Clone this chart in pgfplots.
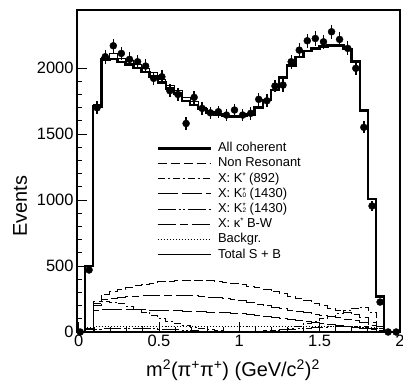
\documentclass[border=0pt]{standalone}
\usepackage{fontspec}
\setmainfont{Liberation Sans}
\usepackage{pgfplots}
\usepackage{pgfplotstable}
\pgfplotsset{compat=1.18}
\newcommand\supsub[2]{\rlap{\raisebox{0.55ex}{\fontsize{8}{8}\selectfont #1}}\raisebox{-0.05ex}{\fontsize{6.5}{6.5}\selectfont #2}}
\newcommand\sups[1]{\raisebox{0.55ex}{\fontsize{8}{8}\selectfont #1}}

\pgfplotstableread{
x fit tot nr kst kzero ktwo kap bkg
-0.010 0 0 0 0 0 0 0 0
0.040 500 505 30 30 20 5 25 38
0.090 1707 1722 230 215 167 20 200 40
0.141 2065 2080 285 235 172 25 248 40
0.191 2068 2113 305 228 172 28 255 40
0.241 2045 2075 322 215 171 30 262 40
0.292 2025 2055 337 195 170 30 267 40
0.342 2000 2030 350 172 169 29 271 40
0.392 1970 2000 362 148 168 27 275 40
0.442 1935 1965 372 125 166 25 277 40
0.493 1890 1915 380 104 164 22 279 40
0.543 1846 1871 386 84 163 19 280 40
0.593 1808 1833 390 66 161 16 279 40
0.644 1750 1780 393 50 159 13 277 40
0.694 1720 1745 394 37 157 10 274 40
0.744 1690 1700 393 26 155 8 270 40
0.795 1665 1670 390 16 152 6 265 40
0.845 1648 1653 385 9 149 5 259 40
0.895 1638 1643 378 5 146 4 252 40
0.945 1634 1639 370 3 143 4 245 40
0.996 1636 1641 360 2 140 5 237 40
1.046 1650 1655 348 2 134 6 228 40
1.096 1700 1705 335 3 127 8 212 40
1.147 1758 1763 320 5 120 10 200 40
1.197 1833 1838 305 10 112 13 188 40
1.247 1930 1935 290 18 104 16 177 40
1.298 2020 2025 272 30 96 20 167 40
1.348 2085 2090 255 45 88 24 157 40
1.398 2130 2135 238 62 80 28 147 40
1.448 2150 2155 220 80 72 32 137 40
1.499 2162 2167 200 100 64 36 127 40
1.549 2172 2177 180 120 56 40 118 40
1.599 2172 2177 160 140 49 44 108 40
1.650 2145 2150 145 160 42 46 99 40
1.700 2050 2055 130 180 36 46 90 40
1.750 1680 1685 110 190 30 42 75 38
1.801 1008 1013 75 150 22 30 50 35
1.851 267 272 25 45 8 10 15 30
1.901 0 0 0 0 0 0 0 0
2.000 0 0 0 0 0 0 0 0
}\hist

\pgfplotstableread{
x y err
0.010 0 0
0.065 470 25
0.115 1699 48
0.166 2086 52
0.216 2169 53
0.266 2111 52
0.317 2066 52
0.367 2048 52
0.417 2015 51
0.467 1922 50
0.518 1934 50
0.568 1828 49
0.618 1800 49
0.669 1580 46
0.719 1778 48
0.769 1694 47
0.820 1661 47
0.870 1669 47
0.920 1644 46
0.970 1682 47
1.021 1644 46
1.071 1657 47
1.121 1763 48
1.172 1752 48
1.222 1864 49
1.272 1871 49
1.323 2048 52
1.373 2136 53
1.423 2207 54
1.473 2224 54
1.524 2199 54
1.574 2275 55
1.624 2217 54
1.675 2149 53
1.725 1998 51
1.775 1551 45
1.826 955 36
1.876 227 18
1.926 0 0
1.976 0 0
}\data

\begin{document}
\begin{tikzpicture}
\path[use as bounding box] (-77bp,-59bp) rectangle (326bp,332bp);
\begin{axis}[
  scale only axis,
  width=323bp, height=322bp,
  xmin=-0.01, xmax=2.0, ymin=0, ymax=2440,
  axis line style={line width=1.2bp},
  tick align=inside, xtick pos=left, ytick pos=left,
  xtick={0,0.5,1,1.5,2}, xticklabels={0,0.5,1,1.5,2},
  ytick={0,500,1000,1500,2000}, yticklabels={0,500,1000,1500,2000},
  minor x tick num=4, minor y tick num=4,
  major tick length=10bp, minor tick length=5bp,
  every tick/.style={line width=0.8bp, black},
  tick label style={font=\fontsize{16.5}{18}\selectfont},
  /pgf/number format/assume math mode=true,
  xlabel={m\textsuperscript{2}(π\textsuperscript{+}π\textsuperscript{+}) (GeV/c\textsuperscript{2})\textsuperscript{2}},
  ylabel={Events},
  xlabel style={font=\fontsize{20}{22}\selectfont, at={(axis description cs:0.483,-0.118)}, anchor=center},
  ylabel style={font=\fontsize{20}{22}\selectfont, at={(axis description cs:-0.176,0.39)}, anchor=center},
  legend cell align=left,
  legend image code/.code={\draw[#1] (0bp,0bp) -- (53bp,0bp);},
  legend style={at={(axis description cs:0.245,0.595)}, anchor=north west, draw=none, fill=none,
    font=\fontsize{13}{15}\selectfont, inner sep=0pt, row sep=0pt,
    nodes={inner sep=1.1bp, text height=10bp, text depth=3bp},
    /tikz/every odd column/.append style={column sep=5bp}},
]
\addlegendimage{line width=2.6bp}
\addlegendentry{All coherent}
\addlegendimage{line width=0.8bp, dash pattern=on 9bp off 4bp}
\addlegendentry{Non Resonant}
\addlegendimage{line width=0.8bp, dash pattern=on 7bp off 3bp on 2bp off 3bp}
\addlegendentry{X: K\sups{*} (892)}
\addlegendimage{line width=0.8bp, dash pattern=on 20bp off 4bp}
\addlegendentry{X: K\supsub{*}{0} (1430)}
\addlegendimage{line width=0.8bp, dash pattern=on 18bp off 3bp on 2bp off 2bp on 2bp off 3bp}
\addlegendentry{X: K\supsub{*}{2} (1430)}
\addlegendimage{line width=0.8bp, dash pattern=on 18bp off 4bp on 8bp off 4bp}
\addlegendentry{X: κ\sups{*} B-W}
\addlegendimage{line width=0.8bp, dash pattern=on 1.2bp off 1.8bp}
\addlegendentry{Backgr.}
\addlegendimage{line width=0.8bp}
\addlegendentry{Total S + B}

\addplot[const plot, line width=0.8bp, dash pattern=on 1.2bp off 1.8bp, forget plot] table[x=x, y=bkg] {\hist};
\addplot[const plot, line width=0.8bp, dash pattern=on 18bp off 3bp on 2bp off 2bp on 2bp off 3bp, forget plot] table[x=x, y=ktwo] {\hist};
\addplot[const plot, line width=0.8bp, dash pattern=on 20bp off 4bp, forget plot] table[x=x, y=kzero] {\hist};
\addplot[const plot, line width=0.8bp, dash pattern=on 18bp off 4bp on 8bp off 4bp, forget plot] table[x=x, y=kap] {\hist};
\addplot[const plot, line width=0.8bp, dash pattern=on 7bp off 3bp on 2bp off 3bp, forget plot] table[x=x, y=kst] {\hist};
\addplot[const plot, line width=0.8bp, dash pattern=on 9bp off 4bp, forget plot] table[x=x, y=nr] {\hist};
\addplot[const plot, line width=0.8bp, forget plot] table[x=x, y=tot] {\hist};
\addplot[const plot, line width=2.6bp, forget plot] table[x=x, y=fit] {\hist};
\addplot[only marks, mark=*, mark size=3.5bp, black, forget plot,
  error bars/.cd, y dir=both, y explicit, error mark=none,
  error bar style={line width=1.4bp}]
  table[x=x, y=y, y error=err] {\data};
\node[anchor=south east, inner sep=0pt, font=\fontsize{7}{8}\selectfont] at (rel axis cs:0.995,1.008) {3540707-037};
\end{axis}
\end{tikzpicture}
\end{document}
